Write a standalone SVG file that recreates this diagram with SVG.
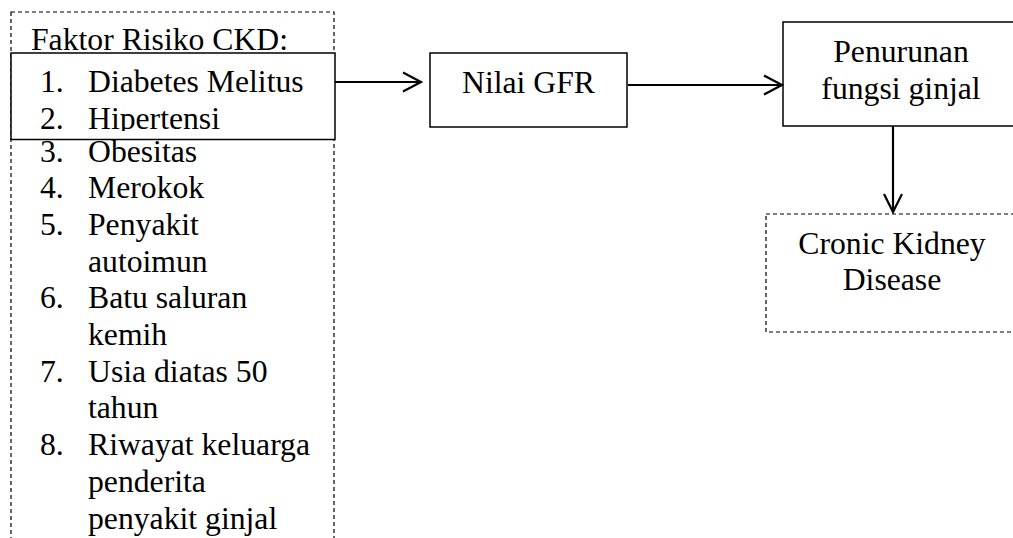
<svg xmlns="http://www.w3.org/2000/svg" width="1013" height="538" viewBox="0 0 1013 538">
  <style>
    text { font-family: "Liberation Serif", "Times New Roman", serif; font-size: 31.7px; fill: #000; }
    .mid { text-anchor: middle; }
    .solid { fill: #fff; stroke: #000; stroke-width: 1.5; }
    .dash { fill: #fff; stroke: #000; stroke-width: 1.2; stroke-dasharray: 4 3; }
    .conn { fill: none; stroke: #000; stroke-width: 2.2; }
  </style>
  <defs>
    <clipPath id="innerClip">
      <rect x="11" y="53" width="324" height="78"/>
    </clipPath>
  </defs>
  <rect width="1013" height="538" fill="#fff"/>

  <g id="faktor-risiko">
    <rect class="dash" x="11" y="12" width="323" height="540"/>
    <text x="31" y="50">Faktor Risiko CKD:</text>
    <g>
      <text x="40" y="161.5">3.</text><text x="88" y="161.5">Obesitas</text>
      <text x="40" y="198.2">4.</text><text x="88" y="198.2">Merokok</text>
      <text x="40" y="234.9">5.</text><text x="88" y="234.9">Penyakit</text>
      <text x="88" y="271.6">autoimun</text>
      <text x="40" y="308.3">6.</text><text x="88" y="308.3">Batu saluran</text>
      <text x="88" y="345">kemih</text>
      <text x="40" y="381.7">7.</text><text x="88" y="381.7">Usia diatas 50</text>
      <text x="88" y="418.4">tahun</text>
      <text x="40" y="455.1">8.</text><text x="88" y="455.1">Riwayat keluarga</text>
      <text x="88" y="491.8">penderita</text>
      <text x="88" y="528.5">penyakit ginjal</text>
    </g>
  </g>

  <g id="faktor-utama">
    <rect class="solid" x="11" y="53" width="324" height="86.5"/>
    <g clip-path="url(#innerClip)">
      <text x="40" y="91.7">1.</text><text x="88" y="91.7">Diabetes Melitus</text>
      <text x="40" y="128.5">2.</text><text x="88" y="128.5">Hipertensi</text>
    </g>
  </g>

  <g id="nilai-gfr">
    <rect class="solid" x="430" y="53" width="197" height="74"/>
    <text class="mid" x="528.5" y="93">Nilai GFR</text>
  </g>

  <g id="penurunan">
    <rect class="solid" x="783" y="22" width="260" height="104"/>
    <text class="mid" x="901" y="62">Penurunan</text>
    <text class="mid" x="901" y="99">fungsi ginjal</text>
  </g>

  <g id="ckd">
    <rect class="dash" x="766" y="214" width="270" height="118"/>
    <text class="mid" x="892" y="254">Cronic Kidney</text>
    <text class="mid" x="892" y="290">Disease</text>
  </g>

  <g id="connectors">
    <path class="conn" d="M335 82 H421"/>
    <path class="conn" d="M403 72.5 L421 82 L403 91.5"/>
    <path class="conn" d="M628 85 H782"/>
    <path class="conn" d="M764 75.5 L782 85 L764 94.5"/>
    <path class="conn" d="M893 126 V212"/>
    <path class="conn" d="M884 194 L893 212 L902 194"/>
  </g>
</svg>
